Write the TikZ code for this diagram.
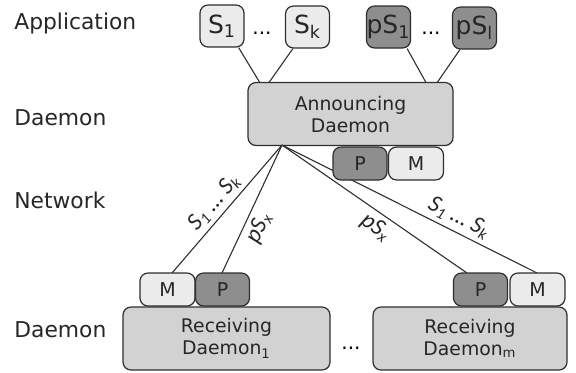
\documentclass[tikz,border=0pt]{standalone}
\usepackage{fontspec}
\setmainfont{DejaVu Sans}
\newfontfamily\labfont{Carlito}
\usetikzlibrary{calc}
\definecolor{lightbox}{HTML}{EBEBEB}
\definecolor{midbox}{HTML}{D2D2D2}
\definecolor{darkbox}{HTML}{8E8E8E}
\definecolor{edge}{HTML}{2E2E2E}
\tikzset{
  base/.style={draw=edge, line width=0.6pt, rounded corners=4pt, inner sep=0pt, text=black!85},
  appbox/.style={base, fill=lightbox, minimum width=22pt, minimum height=21pt, font=\fontsize{12.5}{13}\selectfont},
  papbox/.style={base, fill=darkbox, minimum width=22pt, minimum height=21pt, font=\fontsize{12.5}{13}\selectfont},
  daemonbox/.style={base, fill=midbox, minimum height=31.5pt, align=center, font=\fontsize{9.4}{11}\selectfont},
  mbox/.style={base, fill=lightbox, minimum width=27.5pt, minimum height=16.5pt, font=\fontsize{9.5}{10}\selectfont},
  pbox/.style={base, fill=darkbox, minimum width=27pt, minimum height=16.5pt, font=\fontsize{9.5}{10}\selectfont},
  layer/.style={anchor=west, inner sep=0pt, font=\fontsize{10.9}{12}\selectfont, text=black!85},
  conn/.style={draw=edge, line width=0.55pt},
  lab/.style={sloped, inner sep=2pt, font=\labfont\itshape\fontsize{12}{13}\selectfont, text=black!85},
  dots/.style={inner sep=0pt, font=\fontsize{10}{11}\selectfont}
}
\begin{document}
\begin{tikzpicture}[x=0.5pt, y=-0.5pt]
\useasboundingbox (0,0) rectangle (576,372);
% layer labels
\node[layer] (lapp) at (14,23) {Application};
\node[layer] (ld1) at (14,118) {Daemon};
\node[layer] (lnet) at (14,200) {Network};
\node[layer] (ld2) at (14,330) {Daemon};
% application boxes
\node[appbox] (s1) at (222,26) {S\textsubscript{1}};
\node[dots] (d1) at (262,33) {...};
\node[appbox] (sk) at (307.5,27) {S\textsubscript{k}};
\node[papbox] (ps1) at (388.5,27) {pS\textsubscript{1}};
\node[dots] (d2) at (431,33) {...};
\node[papbox] (psl) at (474.5,28) {pS\textsubscript{l}};
% announcing daemon
\node[daemonbox, minimum width=102.5pt] (ad) at (350.5,114) {Announcing\\Daemon};
\coordinate (fan) at (282,145);
% receiving daemons
\node[daemonbox, minimum width=103.5pt] (r1) at (226.5,338.5) {Receiving\\Daemon\textsubscript{1}};
\node[dots] (d3) at (351,348) {...};
\node[daemonbox, minimum width=97pt] (rm) at (470,338.5) {Receiving\\Daemon\textsubscript{m}};
% app connectors
\draw[conn] ($(s1.south east)+(-6,0)$) -- ($(ad.north west)+(12,0)$);
\draw[conn] ($(sk.south west)+(8,0)$) -- ($(ad.north west)+(22,0)$);
\draw[conn] ($(ps1.south east)+(-4,0)$) -- ($(ad.north east)+(-28,0)$);
\draw[conn] ($(psl.south west)+(8,0)$) -- ($(ad.north east)+(-16,0)$);
% network connectors (drawn before the small boxes so they pass behind)
\coordinate (e1) at (172,273);
\coordinate (e2) at (222,273);
\coordinate (e3) at (467,273);
\coordinate (e4) at (537,273);
\draw[conn] (fan) -- node[lab, above, pos=0.52] {S\textsubscript{1} … S\textsubscript{k}} (e1);
\draw[conn] (fan) -- node[lab, below, pos=0.6] {pS\textsubscript{x}} (e2);
\draw[conn] (fan) -- node[lab, below, pos=0.55] {pS\textsubscript{x}} (e3);
\draw[conn] (fan) -- node[lab, above, pos=0.67] {S\textsubscript{1} … S\textsubscript{k}} (e4);
% P / M boxes
\node[pbox] (ap) at (360,163.5) {P};
\node[mbox] (am) at (416,163.5) {M};
\node[mbox] (r1m) at (167.5,289.5) {M};
\node[pbox] (r1p) at (222.5,289.5) {P};
\node[pbox] (rmp) at (480.5,289.5) {P};
\node[mbox] (rmm) at (537.5,289.5) {M};
\end{tikzpicture}
\end{document}
